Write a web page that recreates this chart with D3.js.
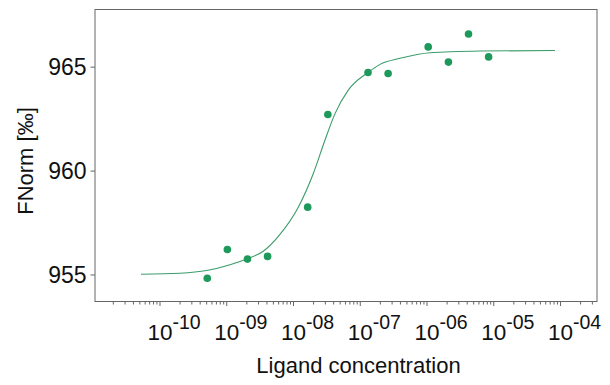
<!DOCTYPE html>
<html>
<head>
<meta charset="utf-8">
<script src="https://cdn.jsdelivr.net/npm/d3@7"></script>
<style>
  body { margin: 0; background: #fff; }
  text { font-family: "Liberation Sans", Arial, sans-serif; fill: #111; }
</style>
</head>
<body>
<script>
// measured points: ligand concentration (M) vs FNorm
var concentrations = [5.2e-10, 1.04e-9, 2.08e-9, 4.16e-9, 1.66e-8, 3.33e-8,
                      1.33e-7, 2.66e-7, 1.06e-6, 2.13e-6, 4.26e-6, 8.52e-6];
var fnorm = [954.82, 956.20, 955.74, 955.87, 958.24, 962.70,
             964.72, 964.67, 965.95, 965.22, 966.57, 965.47];

// fit curve
var fitConc = [5.28e-11, 2.03e-10, 5.09e-10, 1.14e-9, 2.07e-9, 3.59e-9, 6.38e-9,
               1.20e-8, 2.01e-8, 3.01e-8, 4.26e-8, 6.73e-8, 1.33e-7, 2.01e-7,
               4.01e-7, 1.13e-6, 6.34e-6, 8.41e-5];
var fitFnorm = [955.01, 955.06, 955.19, 955.47, 955.76, 956.12, 956.93,
                958.24, 959.85, 961.46, 962.74, 963.87, 964.72, 965.11,
                965.40, 965.67, 965.75, 965.78];

var xTickValues = [1e-10, 1e-9, 1e-8, 1e-7, 1e-6, 1e-5, 1e-4];
var xTickExponents = ["-10", "-09", "-08", "-07", "-06", "-05", "-04"];
var yTickValues = [955, 960, 965];

var svgWidth = 610;
var svgHeight = 385;
var margin = { top: 9.5, right: 13, bottom: 83.5, left: 95 };
var width = svgWidth - margin.left - margin.right;
var height = svgHeight - margin.top - margin.bottom;

var svg = d3.select("body").append("svg").attr("width", svgWidth).attr("height", svgHeight);
var chartGroup = svg.append("g").attr("transform", `translate(${margin.left}, ${margin.top})`);

var xScale = d3.scaleLog().domain([Math.pow(10, -10.966), Math.pow(10, -3.446)]).range([0, width]);
var yScale = d3.scaleLinear().domain([953.7, 967.75]).range([height, 0]);

// minor ticks first (no labels)
var minorTicks = xScale.ticks().filter(d => xTickValues.indexOf(d) < 0 &&
  Math.abs(Math.log10(d) - Math.round(Math.log10(d))) > 1e-6);
chartGroup.append("g")
  .attr("transform", `translate(0, ${height})`)
  .call(d3.axisBottom(xScale).tickValues(minorTicks).tickSize(3).tickFormat(""))
  .call(g => g.select(".domain").remove());

var bottomAxis = chartGroup.append("g")
  .attr("transform", `translate(0, ${height})`)
  .call(d3.axisBottom(xScale).tickValues(xTickValues).tickSize(4.5).tickFormat(""))
  .call(g => g.select(".domain").remove());

bottomAxis.selectAll(".tick").each(function(d, i) {
  var t = d3.select(this).append("text")
    .attr("y", 38.5)
    .attr("x", -12.6)
    .attr("text-anchor", "start")
    .attr("font-size", "22.5px");
  t.append("tspan").text("10");
  t.append("tspan").attr("dy", "-0.55em").attr("font-size", "19.5px").text(xTickExponents[i]);
});

var leftAxis = chartGroup.append("g")
  .call(d3.axisLeft(yScale).tickValues(yTickValues).tickSize(4.5).tickPadding(4))
  .call(g => g.select(".domain").remove());
leftAxis.selectAll("text").attr("font-size", "23px").attr("dy", "0.36em");

svg.selectAll(".tick line").attr("stroke", "#666");

// frame
chartGroup.append("rect")
  .attr("width", width).attr("height", height)
  .attr("fill", "none").attr("stroke", "#666").attr("stroke-width", 1);

// fit line
var fitData = fitConc.map((c, i) => ({ c: c, f: fitFnorm[i] }));
var line = d3.line().x(d => xScale(d.c)).y(d => yScale(d.f)).curve(d3.curveMonotoneX);
chartGroup.append("path")
  .datum(fitData)
  .attr("d", line)
  .attr("fill", "none")
  .attr("stroke", "#3b9c6b")
  .attr("stroke-width", 1.1);

// points
var pointData = concentrations.map((c, i) => ({ c: c, f: fnorm[i] }));
chartGroup.selectAll("circle")
  .data(pointData)
  .enter()
  .append("circle")
  .attr("cx", d => xScale(d.c))
  .attr("cy", d => yScale(d.f))
  .attr("r", 3.8)
  .attr("fill", "#1d9a5b");

// axis titles
svg.append("text")
  .attr("x", 358.5).attr("y", 373)
  .attr("text-anchor", "middle")
  .attr("font-size", "22px")
  .text("Ligand concentration");
svg.append("text")
  .attr("transform", "translate(33, 161) rotate(-90)")
  .attr("text-anchor", "middle")
  .attr("font-size", "22px")
  .text("FNorm [‰]");
</script>
</body>
</html>
